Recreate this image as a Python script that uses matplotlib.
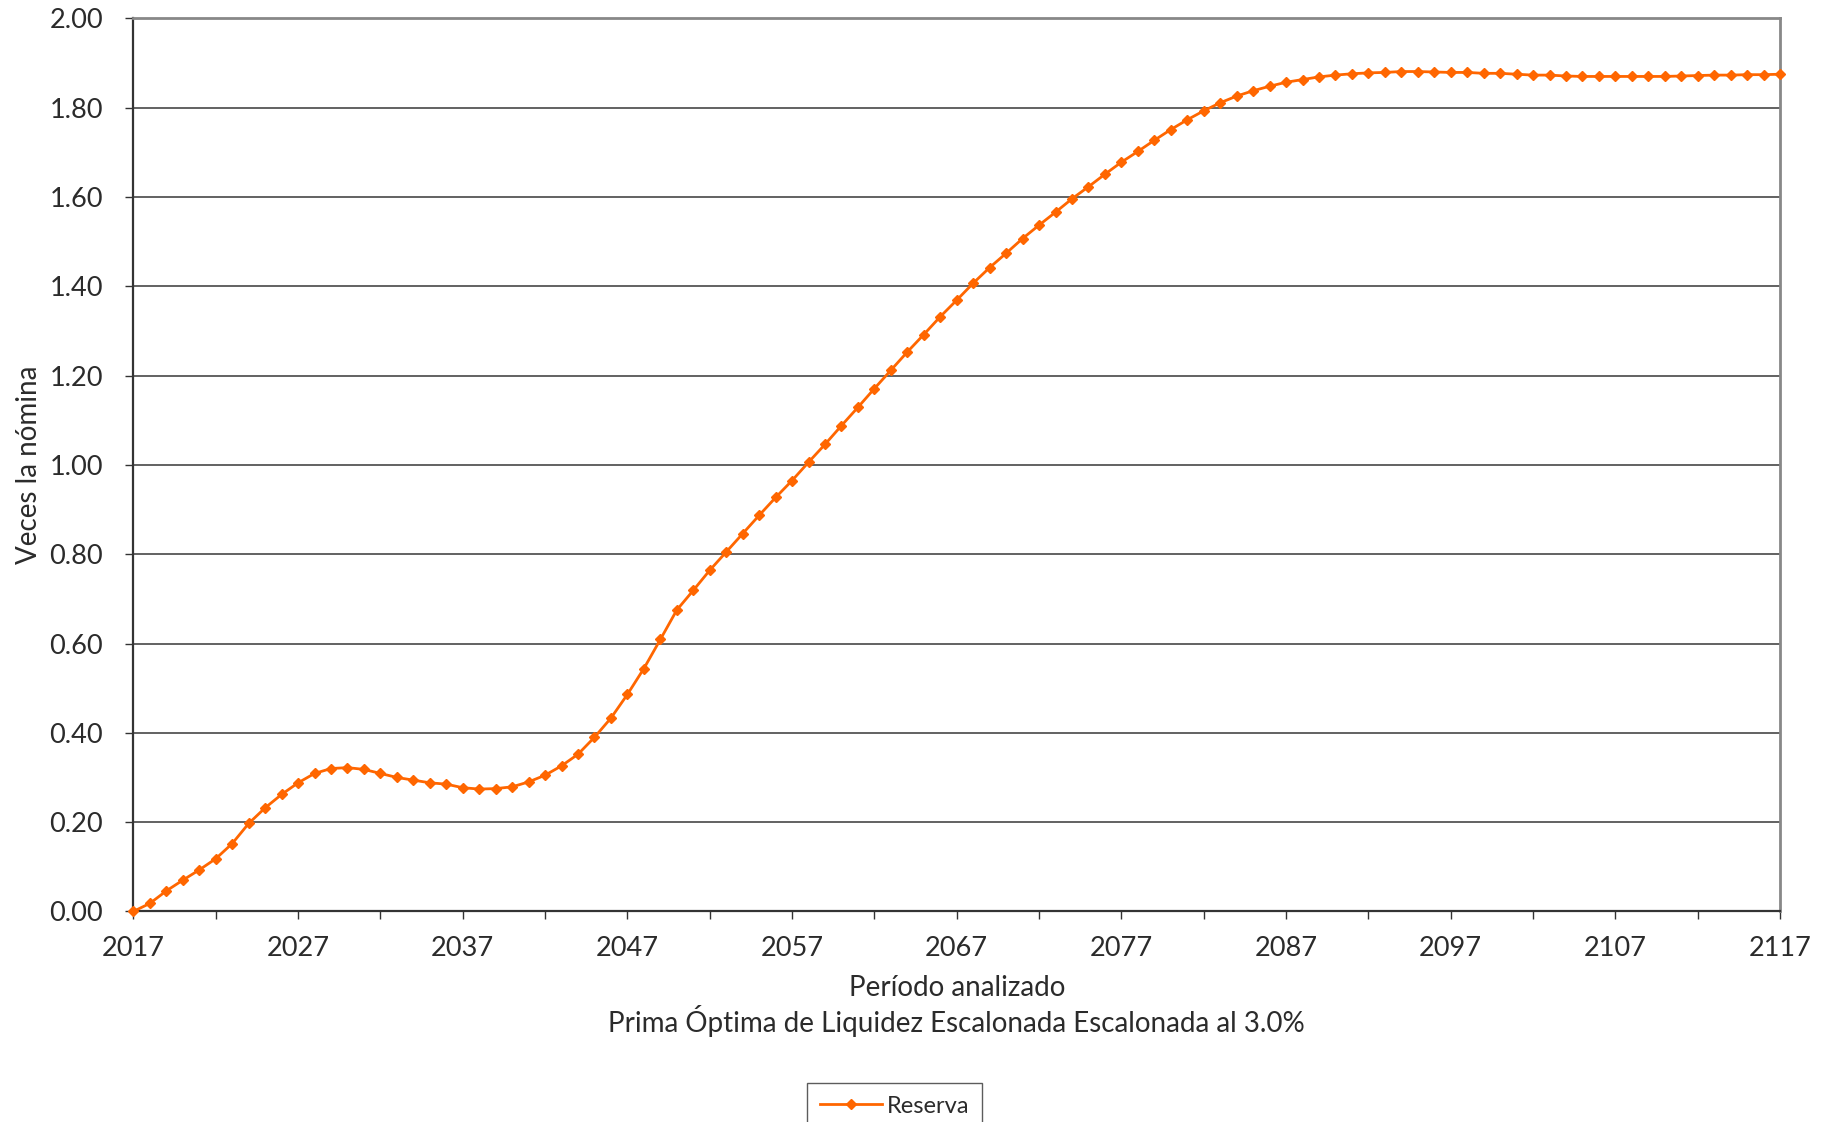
import matplotlib
matplotlib.use("Agg")
import matplotlib.pyplot as plt
import numpy as np

# data
anios = np.arange(2017, 2118)
reserva = [
    0.000, 0.018, 0.046, 0.070, 0.093, 0.118, 0.152, 0.197, 0.232, 0.262,  # 2017-2026
    0.288, 0.309, 0.320, 0.322, 0.318, 0.309, 0.300, 0.294, 0.288, 0.285,  # 2027-2036
    0.277, 0.274, 0.275, 0.279, 0.290, 0.305, 0.326, 0.352, 0.390, 0.433,  # 2037-2046
    0.486, 0.544, 0.609, 0.675, 0.719, 0.764, 0.805, 0.846, 0.887, 0.927,  # 2047-2056
    0.965, 1.006, 1.046, 1.088, 1.129, 1.171, 1.212, 1.253, 1.292, 1.332,  # 2057-2066
    1.369, 1.407, 1.442, 1.474, 1.507, 1.537, 1.566, 1.596, 1.623, 1.651,  # 2067-2076
    1.678, 1.702, 1.727, 1.751, 1.773, 1.793, 1.811, 1.826, 1.838, 1.848,  # 2077-2086
    1.857, 1.863, 1.869, 1.873, 1.876, 1.878, 1.879, 1.881, 1.881, 1.880,  # 2087-2096
    1.879, 1.879, 1.877, 1.877, 1.875, 1.873, 1.873, 1.871, 1.870, 1.870,  # 2097-2106
    1.870, 1.870, 1.870, 1.870, 1.871, 1.872, 1.873, 1.873, 1.874, 1.874,  # 2107-2116
    1.875,                                                                 # 2117
]
x_ticks = np.arange(2017, 2118, 10)
x_minor = np.arange(2022, 2118, 10)
y_ticks = np.arange(0, 2.01, 0.2)

plt.rcParams['font.family'] = ['Lato', 'DejaVu Sans']
txt = '#2b2b2b'

fig = plt.figure(figsize=(18.33, 11.22), dpi=100)
ax = fig.add_axes([0.0728, 0.1877, 0.8983, 0.7959])

ax.plot(anios, reserva, color='#FF6600', lw=2.0, marker='D', markersize=5,
        label='Reserva', zorder=3, clip_on=False)

ax.set_xlim(2017, 2117)
ax.set_ylim(0, 2.0)
ax.set_xticks(x_ticks)
ax.set_xticks(x_minor, minor=True)
ax.set_yticks(y_ticks)
ax.set_yticklabels(['%.2f' % v for v in y_ticks])
ax.grid(axis='y', color='#555555', lw=1.3)
ax.set_axisbelow(True)

for s in ['left', 'bottom']:
    ax.spines[s].set_color('#333333')
    ax.spines[s].set_linewidth(1.6)
for s in ['top', 'right']:
    ax.spines[s].set_color('#888888')
    ax.spines[s].set_linewidth(2.0)

ax.tick_params(axis='both', which='both', direction='out', length=6,
               width=1.0, color='#333333', labelsize=19.5, labelcolor=txt)
ax.tick_params(axis='x', pad=12)
ax.tick_params(axis='y', pad=16)

ax.set_xlabel('Período analizado\nPrima Óptima de Liquidez Escalonada Escalonada al 3.0%',
              fontsize=20, color=txt, labelpad=10, linespacing=1.15)
ax.set_ylabel('Veces la nómina', fontsize=20, color=txt, labelpad=5)

leg = fig.legend(loc='upper left', bbox_to_anchor=(0.4405, 0.035),
                 fontsize=17, frameon=True, fancybox=False, handlelength=2.6,
                 handletextpad=0.2, borderpad=0.55, borderaxespad=0)
leg.get_frame().set_edgecolor('#333333')
leg.get_frame().set_linewidth(1.0)
for t in leg.get_texts():
    t.set_color(txt)

fig.savefig('out.png', dpi=100)
